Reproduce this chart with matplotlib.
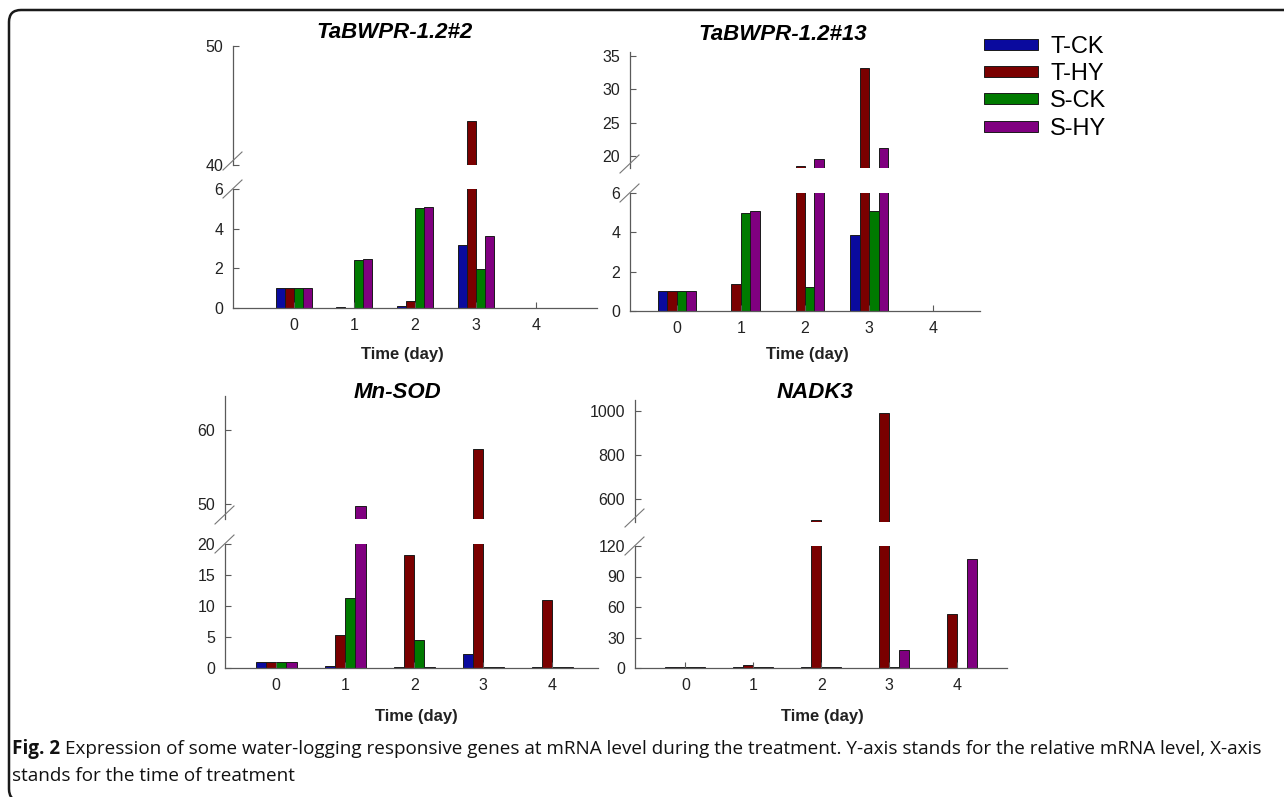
import numpy as np
import matplotlib
matplotlib.use("Agg")
import matplotlib.pyplot as plt
from matplotlib.patches import Patch, FancyBboxPatch
from matplotlib.lines import Line2D
from matplotlib.transforms import IdentityTransform

W, H = 1284, 797

days = [0, 1, 2, 3, 4]
series_names = ["T-CK", "T-HY", "S-CK", "S-HY"]
series_colors = ["#0a0a9e", "#7a0000", "#007a00", "#800080"]

# TaBWPR-1.2#2
bwpr2_tck = [1.0, 0.05, 0.1, 3.2, 0.0]
bwpr2_thy = [1.0, 0.0, 0.35, 43.7, 0.0]
bwpr2_sck = [1.0, 2.4, 5.05, 1.95, 0.0]
bwpr2_shy = [1.0, 2.45, 5.1, 3.65, 0.0]

# TaBWPR-1.2#13
bwpr13_tck = [1.0, 0.0, 0.0, 3.85, 0.0]
bwpr13_thy = [1.0, 1.35, 18.5, 33.2, 0.0]
bwpr13_sck = [1.0, 5.0, 1.2, 5.1, 0.0]
bwpr13_shy = [1.0, 5.1, 19.5, 21.2, 0.0]

# Mn-SOD
sod_tck = [1.0, 0.4, 0.1, 2.3, 0.1]
sod_thy = [1.0, 5.3, 18.3, 57.4, 11.0]
sod_sck = [1.0, 11.3, 4.5, 0.1, 0.1]
sod_shy = [1.0, 49.7, 0.1, 0.1, 0.1]

# NADK3
nadk_tck = [1.0, 1.0, 0.5, 0.0, 0.0]
nadk_thy = [1.0, 2.5, 505.0, 990.0, 53.0]
nadk_sck = [1.0, 0.5, 0.5, 0.5, 0.0]
nadk_shy = [1.0, 0.5, 0.5, 18.0, 107.0]

axis_gray = "#5a5a5a"
label_color = "#222222"
chart_font = "Liberation Sans"


def px_rect(x0, x1, ytop, ybot):
    # pixel box (y measured from the top) -> figure fraction
    return [x0 / W, 1 - ybot / H, (x1 - x0) / W, (ybot - ytop) / H]


def style_axis(ax, xlim, ylim, yticks, show_x):
    ax.set_xlim(xlim)
    ax.set_ylim(ylim)
    ax.set_yticks(yticks)
    ax.spines["top"].set_visible(False)
    ax.spines["right"].set_visible(False)
    ax.spines["left"].set_color(axis_gray)
    ax.spines["left"].set_linewidth(0.9)
    if show_x:
        ax.set_xticks(days)
        ax.spines["bottom"].set_color(axis_gray)
        ax.spines["bottom"].set_linewidth(0.9)
    else:
        ax.spines["bottom"].set_visible(False)
        ax.set_xticks([])
    ax.tick_params(direction="in", length=4, width=0.8, color=axis_gray,
                   labelsize=11.5, labelcolor=label_color, pad=7)
    ax.patch.set_alpha(0)


def draw_bars(ax, series):
    width = 0.148
    x = np.array(days, dtype=float)
    for k, (vals, col) in enumerate(zip(series, series_colors)):
        ax.bar(x + (k - 1.5) * width, vals, width, color=col,
               edgecolor="#1a1a1a", linewidth=0.7)


def add_slash(fig, x, y):
    fig.add_artist(Line2D([(x - 10) / W, (x + 9) / W],
                          [1 - (y + 9) / H, 1 - (y - 9) / H],
                          transform=fig.transFigure, color="#777777", lw=0.8))


plt.rcParams["font.family"] = [chart_font, "DejaVu Sans"]
fig = plt.figure(figsize=(W / 100, H / 100), dpi=100)

panels = [
    # title, series, x0, x1, xlim, lower box/lim/ticks, upper box/lim/ticks, title pos, xlabel pos
    ("TaBWPR-1.2#2", [bwpr2_tck, bwpr2_thy, bwpr2_sck, bwpr2_shy],
     233, 597, (-1.0, 5.0),
     (189, 308), (0, 6), [0, 2, 4, 6],
     (46, 165), (40, 50), [40, 50],
     (395, 33), (402, 355)),
    ("TaBWPR-1.2#13", [bwpr13_tck, bwpr13_thy, bwpr13_sck, bwpr13_shy],
     630, 980, (-0.73, 4.73),
     (193, 311), (0, 6), [0, 2, 4, 6],
     (52, 168), (18.2, 35.6), [20, 25, 30, 35],
     (783, 35), (807, 355)),
    ("Mn-SOD", [sod_tck, sod_thy, sod_sck, sod_shy],
     225, 598, (-0.74, 4.66),
     (544, 668), (0, 20), [0, 5, 10, 15, 20],
     (396, 519), (48, 64.6), [50, 60],
     (397, 393), (416, 717)),
    ("NADK3", [nadk_tck, nadk_thy, nadk_sck, nadk_shy],
     635, 1007, (-0.74, 4.73),
     (546, 668), (0, 120), [0, 30, 60, 90, 120],
     (400, 522), (495, 1050), [600, 800, 1000],
     (815, 393), (822, 717)),
]

for (title, series, x0, x1, xlim, lo_box, lo_lim, lo_ticks,
     up_box, up_lim, up_ticks, tpos, xlpos) in panels:
    ax_lo = fig.add_axes(px_rect(x0, x1, lo_box[0], lo_box[1]))
    ax_up = fig.add_axes(px_rect(x0, x1, up_box[0], up_box[1]))
    draw_bars(ax_lo, series)
    draw_bars(ax_up, series)
    style_axis(ax_lo, xlim, lo_lim, lo_ticks, True)
    style_axis(ax_up, xlim, up_lim, up_ticks, False)
    add_slash(fig, x0, up_box[1] - 4)
    add_slash(fig, x0, lo_box[0])
    fig.text(tpos[0] / W, 1 - tpos[1] / H, title, ha="center", va="center",
             fontsize=16, fontweight="bold", fontstyle="italic", color="black")
    fig.text(xlpos[0] / W, 1 - xlpos[1] / H, "Time (day)", ha="center", va="center",
             fontsize=12, fontweight="bold", color=label_color)

handles = [Patch(facecolor=c, edgecolor="#1a1a1a", linewidth=0.7) for c in series_colors]
fig.legend(handles, series_names, loc="upper left",
           bbox_to_anchor=(984 / W, 1 - 36 / H), frameon=False, fontsize=17,
           handlelength=2.3, handleheight=0.34, handletextpad=0.5,
           labelspacing=0.22, borderpad=0, borderaxespad=0)

# caption
cap_font = ["Open Sans", "DejaVu Sans"]
cap_size = 13.6
fig_lbl = fig.text(12 / W, 1 - 749 / H, "Fig. 2", fontsize=cap_size, fontweight="bold",
                   family=cap_font, va="center", color="#111111")
fig.canvas.draw()
bb = fig_lbl.get_window_extent()
fig.text((bb.x1 + 5) / W, 1 - 749 / H,
         "Expression of some water-logging responsive genes at mRNA level during the "
         "treatment. Y-axis stands for the relative mRNA level, X-axis",
         fontsize=cap_size, family=cap_font, va="center", color="#111111")
fig.text(12 / W, 1 - 776 / H, "stands for the time of treatment",
         fontsize=cap_size, family=cap_font, va="center", color="#111111")

# rounded frame around the figure
frame = FancyBboxPatch((9, -4), 1400, H - 6, boxstyle="round,pad=0,rounding_size=12",
                       transform=IdentityTransform(), fill=False,
                       edgecolor="#1a1a1a", linewidth=1.8)
fig.add_artist(frame)

fig.savefig("out.png", dpi=100)
